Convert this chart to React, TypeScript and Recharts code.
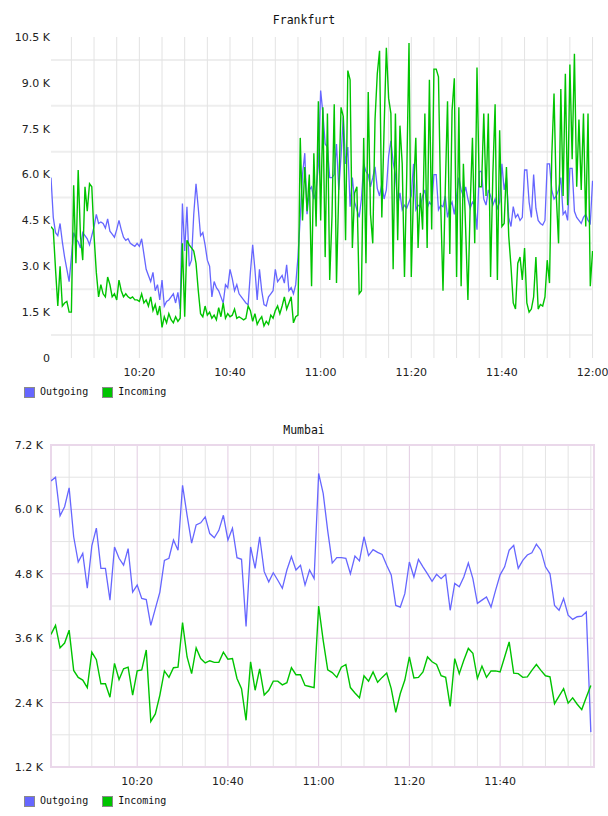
import { CartesianGrid, Line, LineChart, ReferenceArea, XAxis, YAxis } from 'recharts'

// values in K, one sample per step (minutes after 10:00)
const FRA_START = 0.5
const FRA_STEP = 0.5
const FRA_OUT = [
  5.9, 4.6, 4.1, 4.0, 4.4, 3.8, 3.3, 2.9, 2.5, 3.3,
  4.1, 3.9, 3.8, 3.6, 4.1, 4.0, 3.9, 3.7, 4.0, 4.3,
  4.7, 4.4, 4.45, 4.4, 4.25, 4.55, 4.15, 4.05, 3.95, 4.2,
  4.5, 4.2, 3.95, 3.85, 3.9, 3.75, 3.7, 3.65, 3.75, 3.65,
  3.9, 3.4, 2.9, 2.7, 2.5, 2.8, 2.2, 2.4, 1.9, 2.55,
  1.7, 1.85, 1.9, 2.0, 2.1, 1.8, 2.15, 1.6, 5.05, 3.5,
  4.95, 3.0, 3.2, 4.7, 5.7, 4.9, 4.0, 4.1, 3.7, 3.2,
  3.0, 2.0, 2.5, 2.3, 2.2, 2.0, 1.8, 2.4, 2.3, 2.9,
  2.6, 2.2, 2.4, 2.1, 2.0, 1.9, 1.8, 1.75, 2.8, 3.7,
  2.9, 1.9, 2.9, 2.2, 1.75, 1.7, 2.0, 2.1, 2.2, 2.9,
  2.5, 2.6, 2.7, 2.45, 3.05, 2.2, 2.3, 2.1, 2.4, 3.3,
  4.6, 6.0, 6.7, 4.7, 5.5, 5.6, 5.2, 5.5, 6.3, 8.75,
  8.0, 7.0, 6.9, 5.9, 5.9, 6.0, 7.0, 5.5, 6.6, 7.9,
  6.35, 6.9, 4.95, 5.9, 5.1, 4.85, 4.6, 5.2, 6.35, 6.1,
  6.0, 5.6, 5.9, 6.25, 5.55, 5.3, 5.7, 5.2, 5.5, 6.6,
  7.1, 6.4, 6.0, 5.0, 5.4, 4.85, 5.0, 4.9, 5.1, 5.3,
  6.35, 4.85, 5.0, 4.95, 5.3, 5.5, 4.9, 5.1, 5.0, 6.0,
  6.0, 4.85, 5.0, 4.95, 5.3, 4.6, 4.95, 5.1, 4.7, 5.3,
  5.9, 5.5, 5.3, 5.6, 5.2, 4.9, 5.1, 5.0, 4.2, 6.1,
  6.1, 5.2, 5.0, 5.5, 5.3, 5.0, 5.2, 4.9, 5.1, 6.35,
  5.5, 5.9, 4.6, 4.3, 4.95, 4.6, 4.7, 4.5, 4.6, 6.15,
  6.15, 5.1, 4.6, 6.0, 4.9, 4.5, 4.4, 4.35, 4.5, 6.35,
  6.35, 5.5, 5.2, 5.3, 5.5, 5.9, 4.7, 4.8, 4.5, 6.2,
  6.2, 4.8, 4.6, 4.5, 4.4, 4.6, 4.7, 4.5, 4.4, 5.8,
]
const FRA_IN = [
  4.3, 4.2, 2.9, 1.7, 3.0, 1.7, 1.8, 1.85, 1.5, 1.5,
  5.65, 3.1, 6.15, 4.0, 3.2, 5.6, 4.8, 5.7, 5.6, 4.0,
  2.8, 2.0, 2.4, 2.1, 2.0, 2.65, 2.4, 2.0, 2.1, 1.9,
  2.55, 2.2, 2.0, 2.1, 2.0, 1.95, 2.0, 1.9, 1.9, 1.85,
  2.1, 1.8, 1.9, 1.7, 2.0, 1.55, 1.75, 1.4, 1.7, 1.0,
  1.35, 1.15, 1.45, 1.25, 1.15, 1.35, 1.2, 1.3, 3.75, 1.35,
  3.85, 3.7, 3.6, 3.5, 3.1, 2.2, 1.45, 1.35, 1.7, 1.4,
  1.5, 1.3, 1.4, 1.25, 1.65, 1.35, 1.8, 1.3, 1.45, 1.35,
  1.4, 1.6, 1.3, 1.35, 1.3, 1.25, 1.3, 1.7, 1.55, 1.2,
  1.45, 1.1, 1.25, 1.35, 1.05, 1.2, 1.1, 1.4, 1.3, 1.55,
  1.7, 1.45, 1.7, 2.0, 1.6, 1.8, 2.0, 1.15, 1.35, 1.4,
  7.2, 4.5, 6.25, 4.8, 6.0, 2.35, 6.7, 4.3, 8.4, 4.5,
  8.2, 3.3, 8.0, 2.55, 4.6, 8.3, 2.45, 5.5, 8.2, 7.9,
  3.85, 9.4, 9.1, 3.6, 5.4, 5.6, 2.1, 2.2, 7.2, 3.1,
  8.7, 4.7, 3.75, 7.8, 9.3, 10.05, 4.6, 7.5, 10.15, 8.5,
  8.0, 2.9, 8.0, 3.85, 7.6, 6.35, 2.65, 6.0, 10.3, 2.65,
  5.5, 7.2, 3.6, 5.4, 4.2, 8.0, 3.6, 9.1, 4.2, 9.45,
  9.45, 9.2, 5.0, 2.2, 5.5, 8.4, 3.4, 8.1, 9.15, 2.65,
  8.2, 2.35, 6.35, 4.2, 1.9, 5.0, 7.2, 3.75, 9.5, 5.6,
  5.6, 8.0, 5.3, 8.0, 2.65, 6.0, 8.3, 2.55, 7.45, 4.3,
  4.4, 6.25, 4.0, 3.0, 1.8, 1.6, 3.1, 3.3, 2.55, 3.6,
  1.8, 1.5, 1.6, 2.0, 3.3, 1.6, 1.75, 1.7, 2.0, 3.2,
  2.45, 6.6, 8.65, 5.3, 3.75, 8.8, 5.3, 9.3, 5.0, 9.6,
  6.5, 9.95, 5.6, 7.8, 5.5, 8.0, 4.3, 8.0, 2.35, 3.5,
]
const FRA_X_DOMAIN = [0.5, 120.1]
const FRA_Y_TICKS = [0, 1.5, 3, 4.5, 6, 7.5, 9, 10.5]
const FRA_Y_GRID = [0.75, 2.25, 3.75, 5.25, 6.75, 8.25, 9.75]
const FRA_X_TICKS = [20, 40, 60, 80, 100, 120]

const BOM_START = 1
const BOM_STEP = 1
const BOM_OUT = [
  6.53, 6.6, 5.88, 6.05, 6.4, 5.49, 5.02, 5.18, 4.53, 5.32,
  5.65, 4.9, 4.9, 4.31, 5.3, 5.09, 4.96, 5.27, 4.46, 4.59,
  4.34, 4.32, 3.84, 4.15, 4.46, 5.05, 5.09, 5.43, 5.24, 6.45,
  5.89, 5.37, 5.71, 5.75, 5.86, 5.55, 5.47, 5.61, 5.89, 5.43,
  5.65, 5.1, 5.07, 3.82, 5.3, 4.9, 5.49, 4.84, 4.65, 4.82,
  4.68, 4.53, 4.87, 5.12, 4.87, 4.96, 4.59, 4.87, 4.71, 6.67,
  6.3, 5.6, 5.0, 5.1, 5.1, 5.09, 4.8, 5.13, 5.04, 5.49,
  5.14, 5.25, 5.2, 5.16, 4.96, 4.78, 4.21, 4.18, 4.43, 5.02,
  4.74, 5.07, 4.93, 4.8, 4.66, 4.79, 4.71, 4.79, 4.12, 4.62,
  4.56, 4.74, 5.0, 4.71, 4.25, 4.31, 4.37, 4.18, 4.49, 4.78,
  4.93, 5.24, 5.33, 4.9, 5.05, 5.15, 5.19, 5.35, 5.24, 4.93,
  4.8, 4.21, 4.12, 4.34, 4.03, 3.95, 4.0, 4.01, 4.09, 1.85,
]
const BOM_IN = [
  3.67, 3.84, 3.42, 3.51, 3.75, 3.0, 2.87, 2.82, 2.68, 3.34,
  3.2, 2.75, 2.75, 2.5, 3.13, 2.83, 3.03, 3.06, 2.54, 2.99,
  3.01, 3.38, 2.05, 2.19, 2.54, 2.99, 2.87, 3.05, 3.06, 3.89,
  3.25, 2.94, 3.42, 3.22, 3.14, 3.18, 3.15, 3.15, 3.34, 3.21,
  3.22, 2.85, 2.66, 2.07, 3.16, 2.63, 3.03, 2.54, 2.63, 2.8,
  2.8, 2.73, 2.77, 3.05, 2.92, 2.92, 2.72, 2.7, 2.68, 4.2,
  3.56, 3.01, 2.96, 2.87, 3.06, 3.11, 2.68, 2.58, 2.49, 2.9,
  2.8, 2.97, 2.78, 2.87, 2.95, 2.66, 2.22, 2.57, 2.82, 3.25,
  2.86, 2.87, 2.97, 3.25, 3.16, 3.11, 2.9, 2.87, 2.33, 3.22,
  2.94, 3.19, 3.41, 3.32, 2.85, 3.08, 2.87, 2.99, 2.99, 2.97,
  3.25, 3.53, 2.95, 2.94, 2.87, 2.88, 3.0, 3.11, 3.0, 2.9,
  2.88, 2.38, 2.52, 2.66, 2.39, 2.49, 2.37, 2.27, 2.5, 2.72,
]
const BOM_X_DOMAIN = [1.0, 120.7]
const BOM_Y_TICKS = [1.2, 2.4, 3.6, 4.8, 6.0, 7.2]
const BOM_Y_MINOR = [1.8, 3.0, 5.4, 6.6]
const BOM_Y_SHADE = [4.2]
const BOM_X_TICKS = [20, 40, 60, 80, 100]
const BOM_X_MAJOR = [20, 40, 60, 80, 100]

// 5 minute grid lines
const X_MINOR = [5, 10, 15, 25, 30, 35, 45, 50, 55, 65, 70, 75, 85, 90, 95, 105, 110, 115, 120]
const X_ALL = [5, 10, 15, 20, 25, 30, 35, 40, 45, 50, 55, 60, 65, 70, 75, 80, 85, 90, 95, 100, 105, 110, 115, 120]

const BLUE = '#6666ff'
const GREEN = '#00c400'

const toRows = (start: number, step: number, out: number[], inc: number[]) =>
  out.map((v, i) => ({ t: start + i * step, out: v, inc: inc[i] }))

const fmtTime = (m: number) => `${10 + Math.floor(m / 60)}:${String(m % 60).padStart(2, '0')}`
const fmtK = (v: number) => (v === 0 ? '0' : `${v.toFixed(1)} K`)

const tickStyle = { fontSize: 11, fill: '#222', fontFamily: 'DejaVu Sans' }
const mono = '"DejaVu Sans Mono", monospace'

function Legend({ top }: { top: number }) {
  const item = (color: string, label: string) => (
    <div style={{ display: 'flex', alignItems: 'center', marginRight: 14 }}>
      <div style={{ width: 9, height: 9, background: color, border: '1px solid #8a8a8a', marginRight: 5 }} />
      <span>{label}</span>
    </div>
  )
  return (
    <div
      style={{
        position: 'absolute',
        left: 24,
        top,
        display: 'flex',
        fontFamily: mono,
        fontSize: 10,
        lineHeight: '12px',
        color: '#111',
      }}
    >
      {item(BLUE, 'Outgoing')}
      {item(GREEN, 'Incoming')}
    </div>
  )
}

function Title({ text, top }: { text: string; top: number }) {
  return (
    <div
      style={{
        position: 'absolute',
        left: 0,
        width: 608,
        top,
        textAlign: 'center',
        fontFamily: mono,
        fontSize: 11.5,
        lineHeight: '13px',
        color: '#111',
      }}
    >
      {text}
    </div>
  )
}

function Frankfurt() {
  const data = toRows(FRA_START, FRA_STEP, FRA_OUT, FRA_IN)
  return (
    <div style={{ position: 'absolute', left: 0, top: 0 }}>
      <LineChart width={608} height={378} data={data} margin={{ top: 37, right: 15, bottom: 0, left: 0 }}>
        <CartesianGrid vertical={false} horizontalValues={FRA_Y_GRID} stroke="#eeeeee" strokeWidth={2} />
        <CartesianGrid horizontal={false} verticalValues={X_ALL} stroke="#e3e3e3" />
        <XAxis
          dataKey="t"
          type="number"
          domain={FRA_X_DOMAIN}
          ticks={FRA_X_TICKS}
          interval={0}
          tickFormatter={fmtTime}
          tick={tickStyle}
          tickSize={0}
          tickMargin={10}
          axisLine={false}
          height={20}
          allowDataOverflow
        />
        <YAxis
          type="number"
          domain={[0, 10.5]}
          ticks={FRA_Y_TICKS}
          interval={0}
          tickFormatter={fmtK}
          tick={tickStyle}
          tickSize={0}
          tickMargin={1}
          axisLine={false}
          width={51}
        />
        <Line dataKey="out" stroke={BLUE} strokeWidth={1.3} dot={false} isAnimationActive={false} />
        <Line dataKey="inc" stroke={GREEN} strokeWidth={1.4} dot={false} isAnimationActive={false} />
      </LineChart>
    </div>
  )
}

function Mumbai() {
  const data = toRows(BOM_START, BOM_STEP, BOM_OUT, BOM_IN)
  return (
    <div style={{ position: 'absolute', left: 0, top: 408 }}>
      <LineChart width={608} height={379} data={data} margin={{ top: 37, right: 14, bottom: 0, left: 0 }}>
        <CartesianGrid vertical={false} horizontalValues={BOM_Y_MINOR} stroke="#e4e4e4" />
        <CartesianGrid vertical={false} horizontalValues={BOM_Y_SHADE} stroke="#efefef" strokeWidth={2} />
        <CartesianGrid horizontal={false} verticalValues={X_MINOR} stroke="#e4e4e4" />
        <CartesianGrid vertical={false} horizontalValues={BOM_Y_TICKS} stroke="#e2cce2" />
        <CartesianGrid horizontal={false} verticalValues={BOM_X_MAJOR} stroke="#e2cce2" />
        <ReferenceArea
          x1={BOM_X_DOMAIN[0]}
          x2={BOM_X_DOMAIN[1]}
          y1={1.2}
          y2={7.2}
          fill="none"
          stroke="#ead8ea"
          strokeWidth={2}
        />
        <XAxis
          dataKey="t"
          type="number"
          domain={BOM_X_DOMAIN}
          ticks={BOM_X_TICKS}
          interval={0}
          tickFormatter={fmtTime}
          tick={tickStyle}
          tickSize={0}
          tickMargin={10}
          axisLine={false}
          height={20}
          allowDataOverflow
        />
        <YAxis
          type="number"
          domain={[1.2, 7.2]}
          ticks={BOM_Y_TICKS}
          interval={0}
          tickFormatter={fmtK}
          tick={tickStyle}
          tickSize={0}
          tickMargin={8}
          axisLine={false}
          width={51}
        />
        <Line dataKey="out" stroke={BLUE} strokeWidth={1.3} dot={false} isAnimationActive={false} />
        <Line dataKey="inc" stroke={GREEN} strokeWidth={1.4} dot={false} isAnimationActive={false} />
      </LineChart>
    </div>
  )
}

export default function App() {
  return (
    <div style={{ position: 'absolute', left: 0, top: 0, width: 608, height: 816, background: '#fff', overflow: 'hidden' }}>
      <Title text="Frankfurt" top={14} />
      <Frankfurt />
      <Legend top={386} />
      <Title text="Mumbai" top={424} />
      <Mumbai />
      <Legend top={795} />
    </div>
  )
}
